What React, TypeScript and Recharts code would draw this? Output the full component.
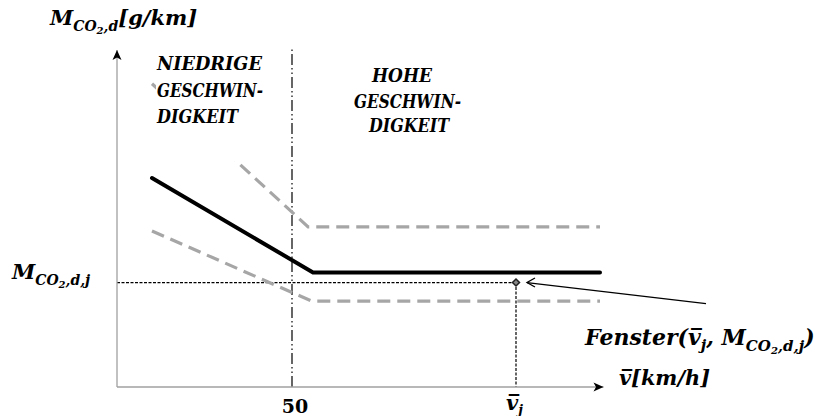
import React from "react"
import { ComposedChart, Line, XAxis, YAxis, ReferenceLine, ReferenceDot } from "recharts"

// speed [km/h] and CO2 [g/km] breakpoints of the three curves
const nominalSpeed = [10, 56, 138]
const nominalCo2 = [62, 34, 34]
const upperSpeed = [10, 54.6, 138]
const upperCo2 = [90, 47.5, 47.5]
const lowerSpeed = [10, 55.6, 138]
const lowerCo2 = [46.3, 25.5, 25.5]

// window point (v_j, M_CO2,d,j) and speed class boundary
const windowSpeed = 114
const windowCo2 = 31
const boundarySpeed = 50

const xTicks = [boundarySpeed, windowSpeed]
const yTicks = [windowCo2]

const FONT = "'DejaVu Serif', serif"
const BAR_V = "v\u0305"

const zip = (xs: number[], ys: number[]) => xs.map((x, i) => ({ x, y: ys[i] }))

const XTick = ({ x, y, payload }: any) => {
  if (payload.value === boundarySpeed) {
    return (
      <text x={x + 3} y={y + 26} textAnchor="middle" fontFamily={FONT} fontWeight="bold" fontSize={19} fill="#000">
        {String(boundarySpeed)}
      </text>
    )
  }
  return (
    <text x={x - 10} y={y + 23} fontFamily={FONT} fontWeight="bold" fontStyle="italic" fontSize={21} fill="#000">
      {BAR_V}
      <tspan fontSize={13} dy={4}>j</tspan>
    </text>
  )
}

const YTick = ({ x, y }: any) => (
  <text x={x - 105} y={y - 4} fontFamily={FONT} fontWeight="bold" fontStyle="italic" fontSize={21} fill="#000">
    M
    <tspan fontSize={14} dy={6}>CO</tspan>
    <tspan fontSize={10} dy={3}>2</tspan>
    <tspan fontSize={14} dy={-3}>,d,j</tspan>
  </text>
)

const YArrow = ({ cx, cy }: any) => (
  <path d={`M${cx},${cy} L${cx - 4.5},${cy + 10} L${cx},${cy + 7.5} L${cx + 4.5},${cy + 10} Z`} fill="#000" />
)

const XArrow = ({ cx, cy }: any) => (
  <path d={`M${cx},${cy} L${cx - 10},${cy - 4.5} L${cx - 7.5},${cy} L${cx - 10},${cy + 4.5} Z`} fill="#000" />
)

// diamond marker plus the annotation arrow pointing at it
const WindowMarker = ({ cx, cy }: any) => (
  <g>
    <path d={`M${cx},${cy - 3.5} L${cx + 3.5},${cy} L${cx},${cy + 3.5} L${cx - 3.5},${cy} Z`} fill="#888" stroke="#222" strokeWidth={1.5} />
    <line x1={cx + 11} y1={cy} x2={cx + 190} y2={cy + 21} stroke="#000" strokeWidth={1.3} />
    <path d={`M${cx + 19},${cy - 4.5} L${cx + 11},${cy} L${cx + 19},${cy + 4.5}`} fill="none" stroke="#000" strokeWidth={1.3} />
  </g>
)

export default function App() {
  const txt = { fontFamily: FONT, fontWeight: "bold" as const, fontStyle: "italic" as const, fill: "#000" }
  return (
    <div style={{ position: "absolute", left: 0, top: 0, width: 815, height: 416, background: "#fff" }}>
      <ComposedChart width={815} height={416} margin={{ top: 50, right: 211.5, bottom: 0, left: 0 }}>
        <XAxis
          type="number"
          dataKey="x"
          domain={[0, 139]}
          ticks={xTicks}
          interval={0}
          height={29}
          tickLine={false}
          tickSize={0}
          tickMargin={0}
          axisLine={{ stroke: "#a0a0a0", strokeWidth: 1.3 }}
          tick={<XTick />}
        />
        <YAxis
          type="number"
          dataKey="y"
          domain={[0, 100]}
          ticks={yTicks}
          interval={0}
          width={117}
          tickLine={false}
          tickSize={0}
          tickMargin={0}
          axisLine={{ stroke: "#a0a0a0", strokeWidth: 1.3 }}
          tick={<YTick />}
        />
        <ReferenceLine
          segment={[{ x: boundarySpeed, y: 0 }, { x: boundarySpeed, y: 101 }]}
          stroke="#000"
          strokeWidth={1.2}
          strokeDasharray="11 3 1.5 3 1.5 3"
          ifOverflow="visible"
        />
        <ReferenceLine
          segment={[{ x: 0, y: windowCo2 }, { x: windowSpeed, y: windowCo2 }]}
          stroke="#000"
          strokeWidth={1.2}
          strokeDasharray="3 1.5"
        />
        <ReferenceLine
          segment={[{ x: windowSpeed, y: windowCo2 }, { x: windowSpeed, y: 0 }]}
          stroke="#000"
          strokeWidth={1.2}
          strokeDasharray="3 1.5"
        />
        <Line data={zip(upperSpeed, upperCo2)} dataKey="y" type="linear" stroke="#a6a6a6" strokeWidth={3.2} strokeDasharray="13 7" dot={false} activeDot={false} isAnimationActive={false} />
        <Line data={zip(lowerSpeed, lowerCo2)} dataKey="y" type="linear" stroke="#a6a6a6" strokeWidth={3.2} strokeDasharray="13 7" dot={false} activeDot={false} isAnimationActive={false} />
        <Line data={zip(nominalSpeed, nominalCo2)} dataKey="y" type="linear" stroke="#000" strokeWidth={4} strokeLinecap="round" dot={false} activeDot={false} isAnimationActive={false} />
        <ReferenceDot x={windowSpeed} y={windowCo2} shape={<WindowMarker />} ifOverflow="visible" />
        <ReferenceDot x={0} y={100} shape={<YArrow />} ifOverflow="visible" />
        <ReferenceDot x={139} y={0} shape={<XArrow />} ifOverflow="visible" />
      </ComposedChart>
      <svg width={815} height={416} style={{ position: "absolute", left: 0, top: 0, pointerEvents: "none" }}>
        <text x={50} y={25} fontSize={21} {...txt}>
          M
          <tspan fontSize={14} dy={6}>CO</tspan>
          <tspan fontSize={10} dy={3}>2</tspan>
          <tspan fontSize={14} dy={-3}>,d</tspan>
          <tspan fontSize={21} dy={-6}>[g/km]</tspan>
        </text>
        <rect x={156} y={44} width={120} height={117} fill="#fff" />
        <text x={157} y={70} fontSize={18} textLength={105} lengthAdjust="spacingAndGlyphs" {...txt}>NIEDRIGE</text>
        <text x={157} y={97} fontSize={18} textLength={106} lengthAdjust="spacingAndGlyphs" {...txt}>GESCHWIN-</text>
        <text x={157} y={123} fontSize={18} textLength={81} lengthAdjust="spacingAndGlyphs" {...txt}>DIGKEIT</text>
        <text x={372} y={82} fontSize={18} textLength={60} lengthAdjust="spacingAndGlyphs" {...txt}>HOHE</text>
        <text x={354} y={108} fontSize={18} textLength={107} lengthAdjust="spacingAndGlyphs" {...txt}>GESCHWIN-</text>
        <text x={369} y={132} fontSize={18} textLength={80} lengthAdjust="spacingAndGlyphs" {...txt}>DIGKEIT</text>
        <text x={619} y={385} fontSize={21} textLength={91} lengthAdjust="spacingAndGlyphs" {...txt}>
          {BAR_V}[km/h]
        </text>
        <text x={585} y={345} fontSize={22} {...txt}>
          Fenster(
          {BAR_V}
          <tspan fontSize={15} dy={5}>j</tspan>
          <tspan fontSize={22} dy={-5}>, M</tspan>
          <tspan fontSize={15} dy={6}>CO</tspan>
          <tspan fontSize={10} dy={3}>2</tspan>
          <tspan fontSize={15} dy={-3}>,d,j</tspan>
          <tspan fontSize={22} dy={-6}>)</tspan>
        </text>
      </svg>
    </div>
  )
}
